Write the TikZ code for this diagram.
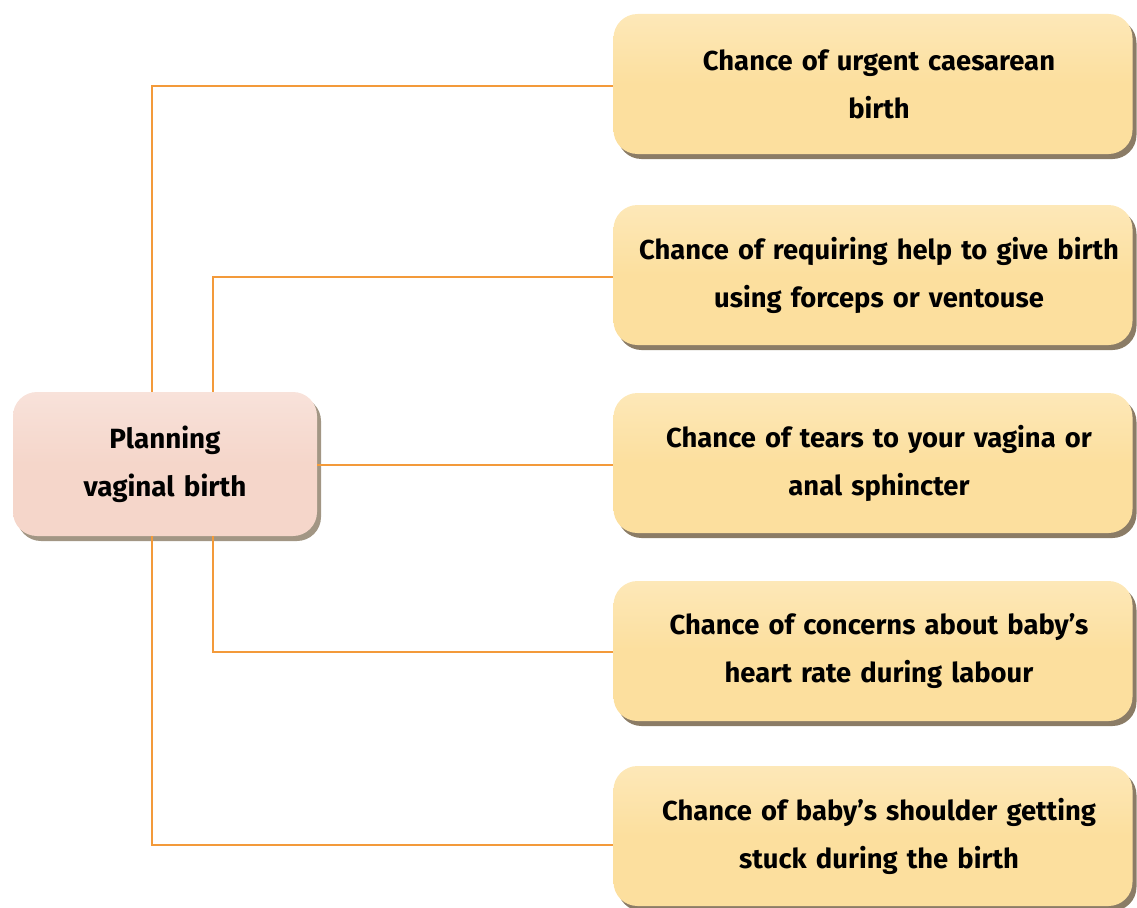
\documentclass[tikz,border=0pt]{standalone}
\usepackage{fontspec}
\newfontfamily\boxfont{Fira Sans}
\usetikzlibrary{shadows,calc}
\definecolor{rbox}{HTML}{FCDF9E}
\definecolor{rboxtop}{HTML}{FDE8B8}
\definecolor{lbox}{HTML}{F5D6CA}
\definecolor{lboxtop}{HTML}{F8E2DA}
\definecolor{conn}{HTML}{F39A3A}
\definecolor{shad}{HTML}{7E6E55}
\tikzset{
  rnode/.style={rounded corners=24pt, minimum width=519pt, minimum height=140pt,
    top color=rboxtop, bottom color=rbox, middle color=rbox,
    drop shadow={shadow xshift=4pt, shadow yshift=-5pt, fill=shad, opacity=0.9},
    text width=505pt, align=center, font=\boxfont\bfseries\fontsize{27.4}{48}\selectfont, inner sep=0pt},
  lnode/.style={rounded corners=24pt, minimum width=304pt, minimum height=144pt,
    top color=lboxtop, bottom color=lbox, middle color=lbox,
    drop shadow={shadow xshift=4pt, shadow yshift=-5pt, fill=shad!80, opacity=0.9},
    text width=290pt, align=center, font=\boxfont\bfseries\fontsize{27.8}{48}\selectfont, inner sep=0pt},
  link/.style={draw=conn, line width=1.2pt}
}
\begin{document}
\begin{tikzpicture}[x=1pt,y=-1pt]
\useasboundingbox (0,0) rectangle (1137,907);
\node[lnode] (pv) at (165,464) {Planning\\vaginal birth};
\node[rnode] (b1) at (873,84) {\hspace*{12pt}Chance of urgent caesarean\\\hspace*{12pt}birth};
\node[rnode] (b2) at (873,275) {\hspace*{12pt}Chance of requiring help to give birth\\\hspace*{12pt}using forceps or ventouse};
\node[rnode] (b3) at (873,463) {\hspace*{12pt}Chance of tears to your vagina or\\\hspace*{12pt}anal sphincter};
\node[rnode] (b4) at (873,651) {\hspace*{12pt}Chance of concerns about baby’s\\\hspace*{12pt}heart rate during labour};
\node[rnode] (b5) at (873,836) {\hspace*{12pt}Chance of baby’s shoulder getting\\\hspace*{12pt}stuck during the birth};
\coordinate (xa) at (152,0);
\coordinate (xb) at (213,0);
\draw[link] (pv.north -| xa) |- ([yshift=-2pt]b1.west);
\draw[link] (pv.north -| xb) |- ([yshift=-2pt]b2.west);
\draw[link] ([yshift=-1pt]pv.east) -- ([yshift=-1pt]pv.east -| b3.west);
\draw[link] (pv.south -| xb) |- ([yshift=-1pt]b4.west);
\draw[link] (pv.south -| xa) |- ([yshift=-9pt]b5.west);
\end{tikzpicture}
\end{document}
